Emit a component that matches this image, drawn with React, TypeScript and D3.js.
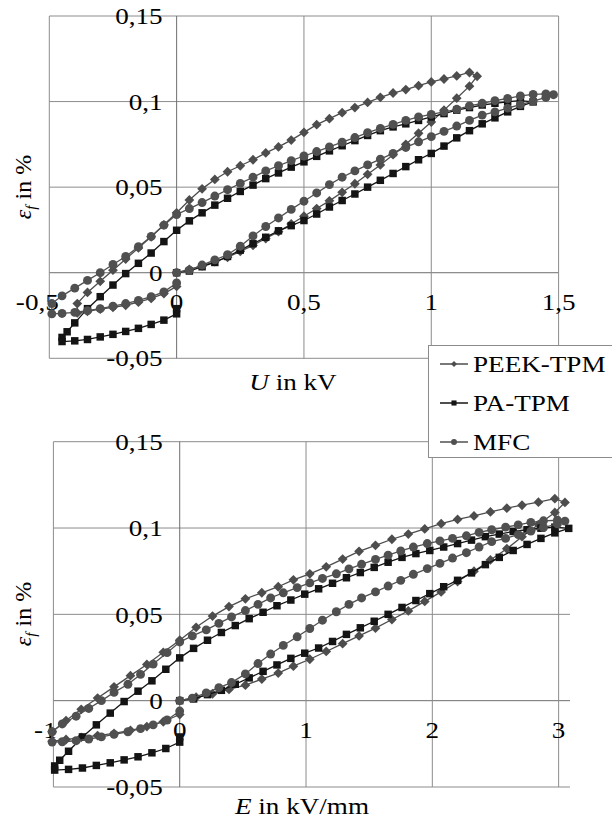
import * as d3 from 'd3';
import React, { useEffect, useRef } from 'react';

// each sample: [U in kV, E in kV/mm, eps_f in %]
// loop order: 0 -> max -> min -> back to 0
const peekTpm: [number, number, number][] = [
  [0, 0, 0], [0.05, 0.13, 0.002], [0.1, 0.26, 0.004], [0.15, 0.39, 0.0065], [0.2, 0.52, 0.009],
  [0.25, 0.65, 0.0125], [0.3, 0.78, 0.016], [0.35, 0.9, 0.02], [0.4, 1.03, 0.024], [0.45, 1.16, 0.0285],
  [0.5, 1.29, 0.033], [0.55, 1.42, 0.0375], [0.6, 1.55, 0.042], [0.65, 1.68, 0.047], [0.7, 1.81, 0.052],
  [0.75, 1.94, 0.0575], [0.8, 2.07, 0.063], [0.85, 2.2, 0.069], [0.9, 2.33, 0.075], [0.95, 2.46, 0.0815],
  [1.0, 2.59, 0.088], [1.05, 2.71, 0.095], [1.1, 2.84, 0.102], [1.15, 2.97, 0.109], [1.18, 3.05, 0.1148],
  // falling voltage
  [1.15, 2.97, 0.117], [1.1, 2.84, 0.115], [1.05, 2.71, 0.1132], [1.0, 2.59, 0.1115], [0.95, 2.46, 0.1093],
  [0.9, 2.33, 0.107], [0.85, 2.2, 0.105], [0.8, 2.07, 0.1025], [0.75, 1.94, 0.0995], [0.7, 1.81, 0.0965],
  [0.65, 1.68, 0.0935], [0.6, 1.55, 0.09], [0.55, 1.42, 0.0865], [0.5, 1.29, 0.082], [0.45, 1.16, 0.0775],
  [0.4, 1.03, 0.0735], [0.35, 0.9, 0.07], [0.3, 0.78, 0.066], [0.25, 0.65, 0.0625], [0.2, 0.52, 0.059],
  [0.15, 0.39, 0.0545], [0.1, 0.26, 0.049], [0.05, 0.13, 0.0425], [0, 0, 0.035], [-0.05, -0.13, 0.028],
  [-0.1, -0.26, 0.021], [-0.15, -0.39, 0.0145], [-0.2, -0.52, 0.008], [-0.25, -0.65, 0.0015], [-0.3, -0.78, -0.005],
  [-0.35, -0.9, -0.0115], [-0.39, -1.01, -0.018],
  // back to zero
  [-0.39, -1.01, -0.0235], [-0.35, -0.9, -0.0225], [-0.3, -0.78, -0.0213], [-0.25, -0.65, -0.0202],
  [-0.2, -0.52, -0.019], [-0.15, -0.39, -0.0172], [-0.1, -0.26, -0.015], [-0.05, -0.13, -0.0122], [0, 0, -0.008],
];

const paTpm: [number, number, number][] = [
  [0, 0, 0], [0.05, 0.11, 0.001], [0.1, 0.22, 0.0035], [0.15, 0.33, 0.006], [0.2, 0.44, 0.0095],
  [0.25, 0.55, 0.0132], [0.3, 0.66, 0.017], [0.35, 0.77, 0.0207], [0.4, 0.88, 0.0245], [0.45, 0.99, 0.0275],
  [0.5, 1.1, 0.0305], [0.55, 1.21, 0.0343], [0.6, 1.32, 0.0384], [0.65, 1.43, 0.0422], [0.7, 1.54, 0.046],
  [0.75, 1.65, 0.05], [0.8, 1.76, 0.054], [0.85, 1.87, 0.058], [0.9, 1.98, 0.062], [0.95, 2.09, 0.066],
  [1.0, 2.2, 0.0697], [1.05, 2.31, 0.074], [1.1, 2.42, 0.0788], [1.15, 2.53, 0.083], [1.2, 2.64, 0.087],
  [1.25, 2.75, 0.0905], [1.3, 2.86, 0.094], [1.35, 2.97, 0.0972], [1.4, 3.08, 0.0998],
  // falling voltage
  [1.35, 2.97, 0.1005], [1.3, 2.86, 0.0999], [1.25, 2.75, 0.099], [1.2, 2.64, 0.098], [1.15, 2.53, 0.0965],
  [1.1, 2.42, 0.095], [1.05, 2.31, 0.093], [1.0, 2.2, 0.091], [0.95, 2.09, 0.089], [0.9, 1.98, 0.087],
  [0.85, 1.87, 0.0852], [0.8, 1.76, 0.083], [0.75, 1.65, 0.0802], [0.7, 1.54, 0.0772], [0.65, 1.43, 0.0742],
  [0.6, 1.32, 0.0712], [0.55, 1.21, 0.068], [0.5, 1.1, 0.0648], [0.45, 0.99, 0.0617], [0.4, 0.88, 0.0583],
  [0.35, 0.77, 0.055], [0.3, 0.66, 0.0512], [0.25, 0.55, 0.0475], [0.2, 0.44, 0.0435], [0.15, 0.33, 0.0395],
  [0.1, 0.22, 0.035], [0.05, 0.11, 0.0303], [0, 0, 0.0248], [-0.05, -0.11, 0.0182], [-0.1, -0.22, 0.0115],
  [-0.15, -0.33, 0.0055], [-0.2, -0.44, -0.0005], [-0.25, -0.55, -0.0072], [-0.3, -0.66, -0.014],
  [-0.35, -0.77, -0.021], [-0.4, -0.88, -0.0293], [-0.43, -0.95, -0.0345], [-0.45, -0.99, -0.0378],
  // back to zero
  [-0.45, -0.99, -0.0402], [-0.4, -0.88, -0.0398], [-0.35, -0.77, -0.039], [-0.3, -0.66, -0.0375],
  [-0.25, -0.55, -0.036], [-0.2, -0.44, -0.0343], [-0.15, -0.33, -0.0325], [-0.1, -0.22, -0.0302],
  [-0.05, -0.11, -0.0277], [0, 0, -0.024], [0, 0, -0.021],
];

const mfc: [number, number, number][] = [
  [0, 0, 0], [0.05, 0.1, 0.0015], [0.1, 0.21, 0.0045], [0.15, 0.31, 0.0075], [0.2, 0.41, 0.0105],
  [0.25, 0.52, 0.0155], [0.3, 0.62, 0.0215], [0.35, 0.72, 0.027], [0.4, 0.82, 0.032], [0.45, 0.93, 0.037],
  [0.5, 1.03, 0.0418], [0.55, 1.13, 0.0466], [0.6, 1.24, 0.0515], [0.65, 1.34, 0.0558], [0.7, 1.44, 0.0595],
  [0.75, 1.55, 0.063], [0.8, 1.65, 0.0664], [0.85, 1.75, 0.0697], [0.9, 1.85, 0.0732], [0.95, 1.96, 0.0765],
  [1.0, 2.06, 0.0795], [1.05, 2.16, 0.0826], [1.1, 2.27, 0.0857], [1.15, 2.37, 0.089], [1.2, 2.47, 0.0921],
  [1.25, 2.58, 0.094], [1.3, 2.68, 0.0962], [1.35, 2.78, 0.0982], [1.4, 2.88, 0.1003], [1.45, 2.99, 0.1024],
  [1.48, 3.05, 0.104],
  // falling voltage
  [1.45, 2.99, 0.1045], [1.4, 2.88, 0.1042], [1.35, 2.78, 0.1033], [1.3, 2.68, 0.1018], [1.25, 2.58, 0.1005],
  [1.2, 2.47, 0.099], [1.15, 2.37, 0.0975], [1.1, 2.27, 0.0955], [1.05, 2.16, 0.094], [1.0, 2.06, 0.0925],
  [0.95, 1.96, 0.091], [0.9, 1.85, 0.089], [0.85, 1.75, 0.0867], [0.8, 1.65, 0.0843], [0.75, 1.55, 0.0818],
  [0.7, 1.44, 0.079], [0.65, 1.34, 0.0763], [0.6, 1.24, 0.0735], [0.55, 1.13, 0.0708], [0.5, 1.03, 0.0682],
  [0.45, 0.93, 0.0655], [0.4, 0.82, 0.0625], [0.35, 0.72, 0.0595], [0.3, 0.62, 0.0558], [0.25, 0.52, 0.0522],
  [0.2, 0.41, 0.0485], [0.15, 0.31, 0.0448], [0.1, 0.21, 0.041], [0.05, 0.1, 0.0375], [0, 0, 0.034],
  [-0.05, -0.1, 0.0278], [-0.1, -0.21, 0.0212], [-0.15, -0.31, 0.0152], [-0.2, -0.41, 0.0095],
  [-0.25, -0.52, 0.0048], [-0.3, -0.62, 0], [-0.35, -0.72, -0.0045], [-0.4, -0.82, -0.009],
  [-0.45, -0.93, -0.0135], [-0.49, -1.01, -0.018],
  // back to zero
  [-0.49, -1.01, -0.024], [-0.45, -0.93, -0.0238], [-0.4, -0.82, -0.0232], [-0.35, -0.72, -0.0222],
  [-0.3, -0.62, -0.021], [-0.25, -0.52, -0.0195], [-0.2, -0.41, -0.018], [-0.15, -0.31, -0.0162],
  [-0.1, -0.21, -0.014], [-0.05, -0.1, -0.0112], [0, 0, -0.006],
];

const seriesNames = ['PEEK-TPM', 'PA-TPM', 'MFC'];
const uTicks = [-0.5, 0, 0.5, 1, 1.5];
const eTicks = [-1, 0, 1, 2, 3];
const epsTicks = [-0.05, 0, 0.05, 0.1, 0.15];

const FONT = 'Liberation Serif';
const FONT_SIZE = 24;
const STRETCH = 1.13; // original lettering is a little wide

// rotated square marker
const diamondType = {
  draw(ctx: any, size: number) {
    const r = Math.sqrt(size / 2);
    ctx.moveTo(0, -r);
    ctx.lineTo(r, 0);
    ctx.lineTo(0, r);
    ctx.lineTo(-r, 0);
    ctx.closePath();
  },
};

const series = [
  { name: seriesNames[0], data: peekTpm, color: '#4d4d4d', symbol: diamondType, size: 48, legendSize: 18 },
  { name: seriesNames[1], data: paTpm, color: '#141414', symbol: d3.symbolSquare, size: 56, legendSize: 26 },
  { name: seriesNames[2], data: mfc, color: '#505050', symbol: d3.symbolCircle, size: 62, legendSize: 28 },
];

const fmt = (v: number) => String(v).replace('.', ',');

export default function App() {
  const ref = useRef<SVGSVGElement>(null);

  useEffect(() => {
    const svg = d3.select(ref.current);
    svg.selectAll('*').remove();

    const charts = [
      { xi: 0, xDomain: [-0.5, 1.5], xRange: [49.3, 558.6], yRange: [358.3, 16], xTicks: uTicks,
        sym: 'U', unit: ' in kV', titlePos: [293, 382], yTitleY: 187, gap: 14, firstShift: -12 },
      { xi: 1, xDomain: [-1, 3.09], xRange: [53.4, 570], yRange: [787, 441.7], xTicks: eTicks,
        sym: 'E', unit: ' in kV/mm', titlePos: [302, 806], yTitleY: 614, gap: 17, firstShift: -8 },
    ];

    const wideText = (g: any, x: number, y: number, anchor: string) =>
      g.append('text')
        .attr('transform', `translate(${x},${y}) scale(${STRETCH},1)`)
        .attr('text-anchor', anchor)
        .attr('dy', '0.34em')
        .attr('font-family', FONT)
        .attr('font-size', FONT_SIZE)
        .attr('fill', '#000');

    charts.forEach((c) => {
      const x = d3.scaleLinear().domain(c.xDomain).range(c.xRange);
      const y = d3.scaleLinear().domain([-0.05, 0.15]).range(c.yRange);
      const g = svg.append('g');

      // gridlines (the zero lines double as axes)
      g.selectAll('.hgrid').data(epsTicks).enter().append('line')
        .attr('x1', c.xRange[0]).attr('x2', c.xRange[1])
        .attr('y1', (d) => y(d)).attr('y2', (d) => y(d))
        .attr('stroke', (d) => (d === 0 ? '#6e6e6e' : '#8c8c8c')).attr('stroke-width', 1);
      g.selectAll('.vgrid').data(c.xTicks).enter().append('line')
        .attr('x1', (d) => x(d)).attr('x2', (d) => x(d))
        .attr('y1', c.yRange[1]).attr('y2', c.yRange[0])
        .attr('stroke', (d) => (d === 0 ? '#6e6e6e' : '#8c8c8c')).attr('stroke-width', 1);

      const x0 = x(0);
      const y0 = y(0);
      epsTicks.forEach((t) => {
        wideText(g, x0 - c.gap, y(t), 'end').text(fmt(t));
      });
      c.xTicks.forEach((t, i) => {
        wideText(g, x(t) + (i === 0 ? c.firstShift : 0), y0 + 29.5, 'middle').text(fmt(t));
      });

      // series
      series.forEach((s) => {
        const line = d3.line<[number, number, number]>()
          .x((d) => x(d[c.xi]))
          .y((d) => y(d[2]));
        g.append('path')
          .attr('d', line(s.data))
          .attr('fill', 'none')
          .attr('stroke', s.color)
          .attr('stroke-width', 1.3);
        const sym = d3.symbol().type(s.symbol as any).size(s.size);
        g.selectAll(null).data(s.data).enter().append('path')
          .attr('d', sym)
          .attr('transform', (d) => `translate(${x(d[c.xi])},${y(d[2])})`)
          .attr('fill', s.color);
      });

      // axis titles
      const xt = wideText(g, c.titlePos[0], c.titlePos[1], 'middle');
      xt.append('tspan').attr('font-style', 'italic').text(c.sym);
      xt.append('tspan').text(c.unit);

      const yt = g.append('text')
        .attr('transform', `translate(23,${c.yTitleY}) rotate(-90)`)
        .attr('text-anchor', 'middle')
        .attr('dy', '0.34em')
        .attr('font-family', FONT)
        .attr('font-size', FONT_SIZE);
      yt.append('tspan').attr('font-style', 'italic').text('ε');
      yt.append('tspan').attr('font-style', 'italic').attr('font-size', 15).attr('dy', 5).text('f');
      yt.append('tspan').attr('dy', -5).text(' in %');
    });

    // legend
    const lg = svg.append('g');
    lg.append('rect')
      .attr('x', 428.5).attr('y', 345.5).attr('width', 200).attr('height', 112)
      .attr('fill', '#fff').attr('stroke', '#8c8c8c').attr('stroke-width', 1);
    const ly = d3.scalePoint().domain(seriesNames).range([364, 442]);
    series.forEach((s) => {
      const yy = ly(s.name) as number;
      lg.append('line').attr('x1', 440).attr('x2', 468).attr('y1', yy).attr('y2', yy)
        .attr('stroke', s.color).attr('stroke-width', 1.5);
      lg.append('path')
        .attr('d', d3.symbol().type(s.symbol as any).size(s.legendSize)())
        .attr('transform', `translate(454,${yy})`)
        .attr('fill', s.color);
      wideText(lg, 473, yy, 'start').text(s.name);
    });
  }, []);

  return (
    <svg
      ref={ref}
      width={612}
      height={821}
      style={{ position: 'absolute', left: 0, top: 0, background: '#fff' }}
    />
  );
}
